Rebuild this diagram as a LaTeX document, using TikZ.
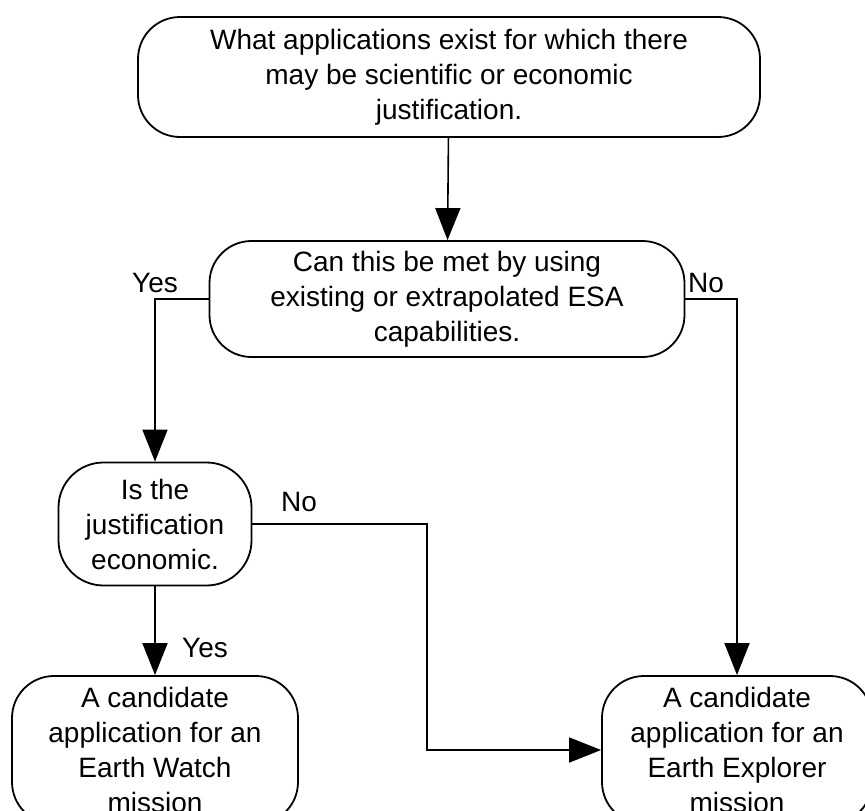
\documentclass[tikz,border=0pt]{standalone}
\usepackage{fontspec}
\setmainfont{Liberation Sans}
\usetikzlibrary{arrows.meta}
\begin{document}
\begin{tikzpicture}[x=1pt,y=-1pt,
  box/.style={draw,line width=1.8pt,rounded corners=42pt,align=center,inner sep=0pt,
    font=\fontsize{28}{35}\selectfont},
  arr/.style={line width=1.6pt,-{Triangle[length=32pt,width=25pt]}},
  lbl/.style={font=\fontsize{28}{32}\selectfont,inner sep=0pt}]
\clip (0,0) rectangle (865,811);
\fill[white] (0,0) rectangle (865,811);
\node[box,minimum width=622pt,minimum height=120pt] (b1) at (449,77)
  {What applications exist for which there\\may be scientific or economic\\justification.};
\node[box,minimum width=475pt,minimum height=116pt] (b2) at (447,299)
  {Can this be met by using\\existing or extrapolated ESA\\capabilities.};
\node[box,minimum width=193pt,minimum height=123pt,rounded corners=45pt] (b3) at (155,524)
  {Is the\\justification\\economic.};
\node[box,minimum width=286pt,minimum height=148pt] (b4) at (155,750)
  {A candidate\\application for an\\Earth Watch\\mission};
\node[box,minimum width=270pt,minimum height=148pt] (b5) at (737,750)
  {A candidate\\application for an\\Earth Explorer\\mission};
\coordinate (k) at (427,600);
\draw[arr] (b1) -- (b2);
\draw[arr] (b2.west) -| (b3.north);
\draw[arr] (b2.east) -| (b5.north);
\draw[arr] (b3) -- (b4);
\draw[arr] (b3.east) -| (k) |- (b5.west);
\node[lbl] (y1) at (155,283) {Yes};
\node[lbl] (n1) at (706,283) {No};
\node[lbl] (n2) at (299,502) {No};
\node[lbl] (y2) at (205,648) {Yes};
\end{tikzpicture}
\end{document}
